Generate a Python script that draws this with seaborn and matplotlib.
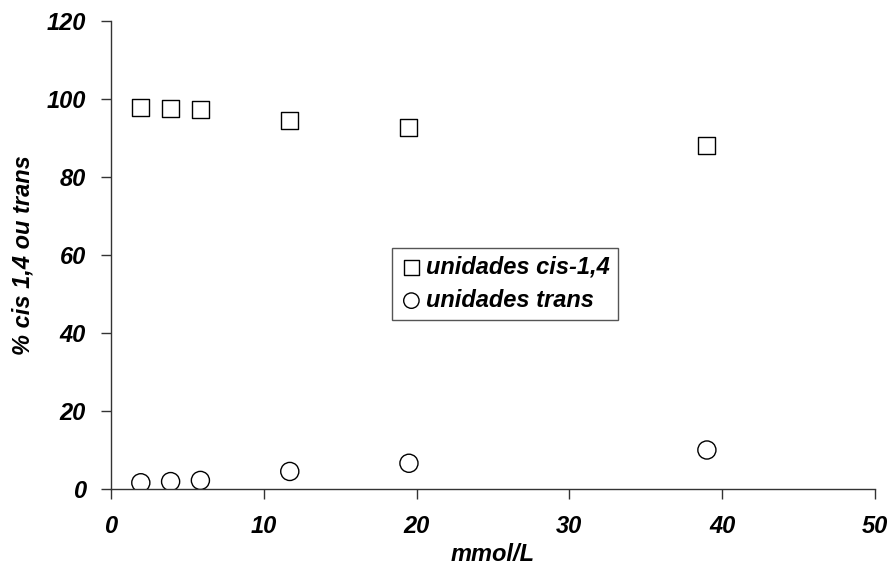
import matplotlib
matplotlib.use("Agg")
import matplotlib.pyplot as plt
import seaborn as sns
import numpy as np
import pandas as pd

conc = [1.95, 3.9, 5.85, 11.7, 19.5, 39.0]
cis14 = [97.8, 97.5, 97.2, 94.6, 92.6, 88.2]
trans = [1.6, 1.9, 2.2, 4.5, 6.6, 10.0]
labels = ["unidades cis-1,4", "unidades trans"]

sns.set_style("white")
plt.rcParams['font.family'] = ['Liberation Sans', 'DejaVu Sans']
plt.rcParams['text.color'] = 'black'
plt.rcParams['xtick.color'] = 'black'
plt.rcParams['ytick.color'] = 'black'
plt.rcParams['axes.labelcolor'] = 'black'

fig = plt.figure(figsize=(8.91, 5.69), dpi=100)
ax = fig.add_axes([0.1246, 0.1406, 0.8574, 0.8224])

sns.scatterplot(x=conc, y=cis14, marker='s', s=150, facecolor='none',
                edgecolor='black', linewidth=1.0, label=labels[0], ax=ax)
sns.scatterplot(x=conc, y=trans, marker='o', s=170, facecolor='none',
                edgecolor='black', linewidth=1.0, label=labels[1], ax=ax)

ax.set_xlim(0, 50)
ax.set_ylim(0, 120)
ax.set_xticks([0, 10, 20, 30, 40, 50])
ax.set_yticks([0, 20, 40, 60, 80, 100, 120])
for side in ['top', 'right']:
    ax.spines[side].set_visible(False)
for side in ['left', 'bottom']:
    ax.spines[side].set_color('#333333')
    ax.spines[side].set_linewidth(1.0)
ax.tick_params(axis='both', direction='out', length=7, width=1.0,
               color='#333333', left=True, bottom=True, labelsize=17)
ax.tick_params(axis='x', pad=12)
ax.tick_params(axis='y', pad=11)
for t in ax.get_xticklabels() + ax.get_yticklabels():
    t.set_fontweight('bold')
    t.set_fontstyle('italic')

ax.set_xlabel("mmol/L", fontsize=17, fontweight='bold', style='italic', labelpad=3)
ax.set_ylabel("% cis 1,4 ou trans", fontsize=17, fontweight='bold', style='italic', labelpad=9)

leg = ax.legend(loc='upper left', bbox_to_anchor=(0.353, 0.541), fancybox=False,
                frameon=True, edgecolor='#555555', framealpha=1,
                prop={'size': 17, 'weight': 'bold', 'style': 'italic'},
                handletextpad=0.15, borderpad=0.35, labelspacing=0.42,
                handlelength=0.9, markerscale=0.85)
leg.get_frame().set_linewidth(1.0)

fig.savefig("out.png", dpi=100)
